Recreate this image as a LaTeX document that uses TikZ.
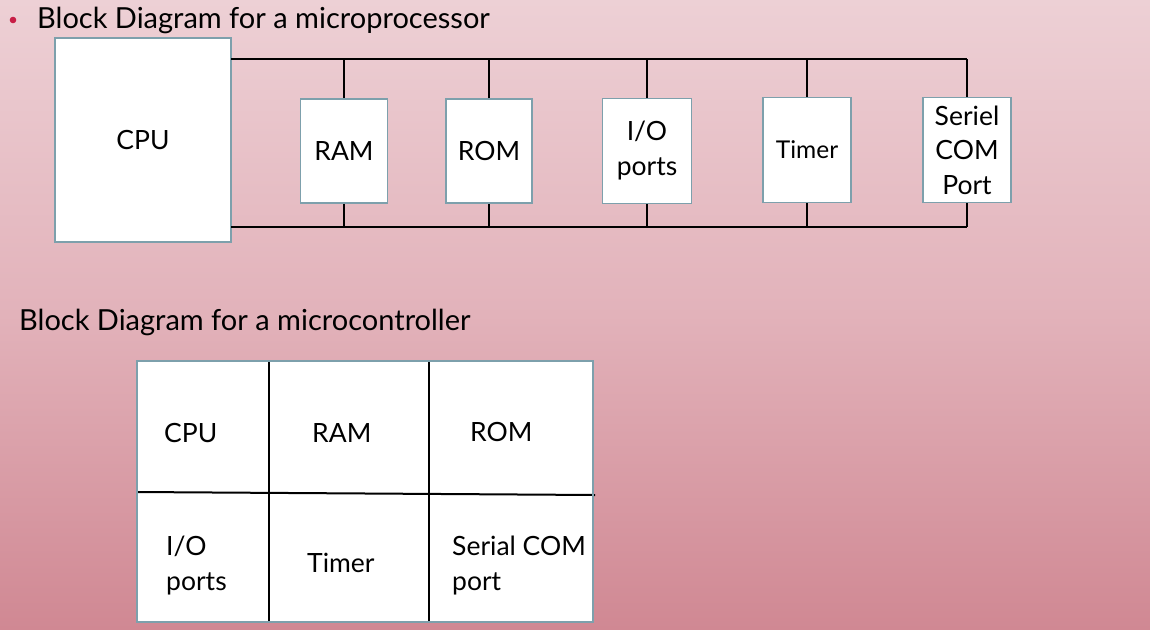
\documentclass[tikz,border=0pt]{standalone}
\usepackage{fontspec}
\setmainfont{Lato}
\begin{document}
\begin{tikzpicture}[x=1pt,y=-1pt,
  blk/.style={draw=boxline,line width=1.6pt,fill=white,inner sep=0pt,align=center,font=\fontsize{26.5}{35}\selectfont},
  bus/.style={line width=2pt,black},
  lbl/.style={anchor=west,inner sep=0pt,align=left,font=\fontsize{26.5}{35}\selectfont},
  ttl/.style={anchor=west,inner sep=0pt,font=\fontsize{29}{34}\selectfont}]
\definecolor{boxline}{RGB}{125,160,172}
\definecolor{bgtop}{RGB}{237,208,213}
\definecolor{bgmid}{RGB}{226,178,186}
\definecolor{bgbot}{RGB}{208,136,147}
\definecolor{bulletred}{RGB}{200,30,70}
\useasboundingbox (0,0) rectangle (1150,629);
\shade[top color=bgtop,bottom color=bgbot,middle color=bgmid] (0,0) rectangle (1150,629);
% titles
\fill[bulletred] (13,20) circle (3.3);
\node[ttl] (t1) at (37,20) {Block Diagram for a microprocessor};
\node[ttl] (t2) at (19,322) {Block Diagram for a microcontroller};
% microprocessor
\node[blk,minimum width=176,minimum height=204] (cpu) at (143,140) {CPU};
\node[blk,minimum width=87,minimum height=104] (ram) at (344,151) {RAM};
\node[blk,minimum width=86,minimum height=104] (rom) at (489,151) {ROM};
\node[blk,minimum width=89,minimum height=105] (io) at (647,151) {I/O\\ports};
\node[blk,minimum width=88,minimum height=105,font=\fontsize{24.5}{30}\selectfont] (tim) at (807,150) {Timer};
\node[blk,minimum width=88,minimum height=105,font=\fontsize{26.5}{34.5}\selectfont] (ser) at (967,150) {Seriel\\COM\\Port};
\coordinate (tl) at (231,59);
\coordinate (tr) at (967,59);
\coordinate (bl) at (231,227);
\coordinate (br) at (967,227);
\draw[bus] (tl) -- (tr);
\draw[bus] (bl) -- (br);
\foreach \n in {ram,rom,io,tim,ser}{
  \draw[bus] (\n.north) -- (\n.north |- tl);
  \draw[bus] (\n.south) -- (\n.south |- bl);
}
% microcontroller
\coordinate (g1) at (137,361);
\coordinate (g2) at (593,622);
\fill[white] (g1) rectangle (g2);
\draw[bus] (269,361) -- (269,622);
\draw[bus] (429,361) -- (429,622);
\draw[bus] (137,492) -- (595,495);
\draw[draw=boxline,line width=1.6pt] (g1) rectangle (g2);
\node[lbl] (c1) at (164,433) {CPU};
\node[lbl] (c2) at (312,433) {RAM};
\node[lbl] (c3) at (470,432) {ROM};
\node[lbl] (c4) at (166,566) {I/O\\ports};
\node[lbl] (c5) at (307,563) {Timer};
\node[lbl] (c6) at (452,566) {Serial COM\\port};
\end{tikzpicture}
\end{document}
